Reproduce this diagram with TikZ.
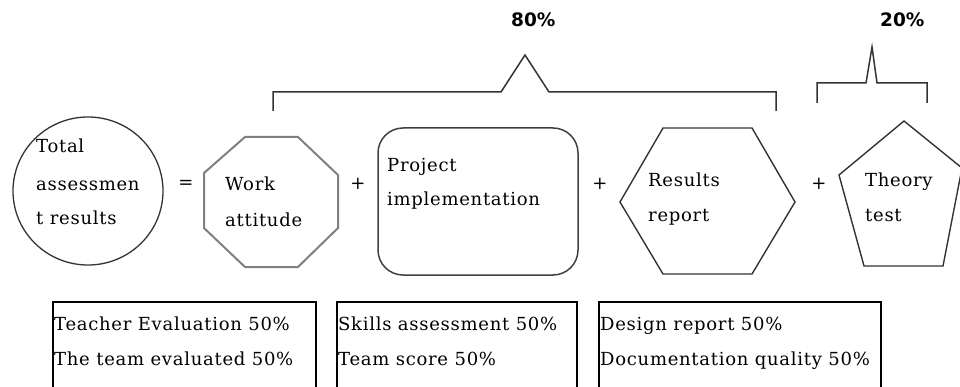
\documentclass[tikz,border=0pt]{standalone}
\usepackage{fontspec}
\setmainfont{DejaVu Serif}[LetterSpace=4]
\setsansfont{DejaVu Sans}
\begin{document}
\begin{tikzpicture}[x=1pt,y=-1pt,every node/.style={inner sep=0pt,anchor=base west,font=\fontsize{18}{20}\selectfont}]
		\useasboundingbox(0,0)rectangle(960,387);
		\clip(0,0)rectangle(960,387);
		
		\draw[black!80,line width=1.3pt](88,191)ellipse(75 and 74);
		\draw[black!50,line width=2pt](245,137)--(298,137)--(338,175)--(338,228)--(298,267)--(245,267)--(204,228)--(204,173)--cycle;
		\draw[black!75,line width=1.5pt,rounded corners=25pt](378,128)rectangle(578,275);
		\draw[black!80,line width=1.4pt](620,202)--(663,128)--(752,128)--(795,202)--(752,274)--(663,274)--cycle;
		\draw[black!80,line width=1.4pt](904,121)--(962,168)--(943,266)--(864,266)--(839,175)--cycle;
		
		\draw[black!80,line width=1.5pt](273,111)--(273,92)--(501,92)--(525,55)--(549,92)--(776,92)--(776,111);
		\draw[black!80,line width=1.5pt](817,103)--(817,83)--(866,83)--(872,47)--(877,83)--(927,83)--(927,103);
		\node(s1)at(511,27)[font=\fontsize{18.5}{20}\selectfont\sffamily\bfseries]{80\%};
		\node(s2)at(880,27)[font=\fontsize{18.5}{20}\selectfont\sffamily\bfseries]{20\%};
		
		\node(a1)at(36,153){Total};
		\node(a2)at(36,191){assessmen};
		\node(a3)at(36,225){t results};
		\node(eq)at(186,184)[anchor=center]{=};
		\node(b1)at(225,191){Work};
		\node(b2)at(225,226){attitude};
		\node(p1)at(358,184)[anchor=center]{+};
		\node(c1)at(387,172){Project};
		\node(c2)at(387,206){implementation};
		\node(p2)at(600,184)[anchor=center]{+};
		\node(d1)at(648,187){Results};
		\node(d2)at(648,222){report};
		\node(p3)at(819,184)[anchor=center]{+};
		\node(e1)at(865,187){Theory};
		\node(e2)at(865,222){test};
		
		\foreach \x/\w in{53/316,337/577,599/881}
		\draw[line width=1.2pt](\x,302)rectangle(\w,400);
		\node(f1)at(54,330){Teacher Evaluation 50\%};
		\node(f2)at(54,365){The team evaluated 50\%};
		\node(g1)at(338,330){Skills assessment 50\%};
		\node(g2)at(338,365){Team score 50\%};
		\node(h1)at(600,330){Design report 50\%};
		\node(h2)at(600,365){Documentation quality 50\%};
	\end{tikzpicture}
\end{document}
